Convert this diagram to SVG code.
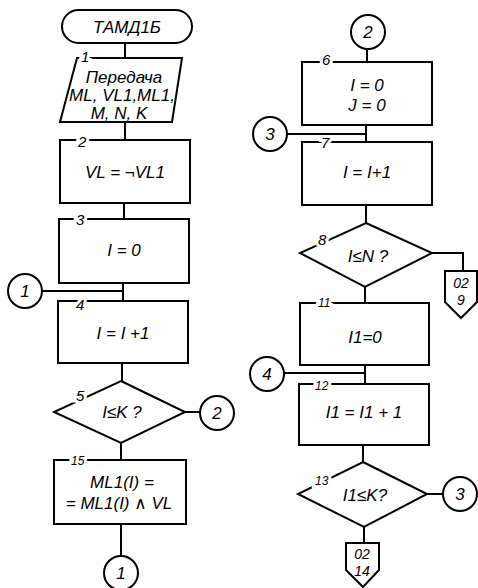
<svg xmlns="http://www.w3.org/2000/svg" width="478" height="588" viewBox="0 0 478 588">
<style>
.s{fill:#fff;stroke:#000;stroke-width:2}
.c{fill:none;stroke:#000;stroke-width:2}
text{font-family:"Liberation Sans","DejaVu Sans",sans-serif;font-style:italic;fill:#000}
.t{font-size:17px;text-anchor:middle}
.n{font-size:15px;paint-order:stroke;stroke:#fff;stroke-width:6px}
.m{font-size:12px;paint-order:stroke;stroke:#fff;stroke-width:6px}
.o{font-size:14px;text-anchor:middle}
</style>
<rect width="478" height="588" fill="#fff"/>
<g id="connectors">
<path class="c" d="M125 43V58M125 122V140M124 203V219M123 283V301M42 291H123M122 363V381M185 412H200M121 443V460M121 524V556"/>
<path class="c" d="M367 49V62M366 125V142M287 134H366M366 205V223M432 253H463V271M365 287V303M365 365V384M284 373H365M363 445V462M427 494H443M364 527V543"/>
</g>
<g id="start"><rect class="s" x="62" y="10" width="130" height="33" rx="16.5"/><text class="t" x="127" y="33">ТАМД1Б</text></g>
<g id="n1"><polygon class="s" points="77,58 182,58 172,122 60,122"/><text class="n" x="81" y="62">1</text><text class="t" x="124" y="83">Передача</text><text class="t" x="122" y="101">ML, VL1,ML1,</text><text class="t" x="119" y="119">M, N, K</text></g>
<g id="n2"><rect class="s" x="60" y="140" width="130" height="63"/><text class="n" x="78" y="147">2</text><text class="t" x="125" y="178">VL = ¬VL1</text></g>
<g id="n3"><rect class="s" x="59" y="219" width="130" height="64"/><text class="n" x="76" y="225">3</text><text class="t" x="124" y="256">I = 0</text></g>
<g id="c1a"><circle class="s" cx="25" cy="291" r="17"/><text class="t" x="25" y="297">1</text></g>
<g id="n4"><rect class="s" x="58" y="301" width="130" height="62"/><text class="n" x="76" y="310">4</text><text class="t" x="123" y="339">I = I +1</text></g>
<g id="n5"><polygon class="s" points="121,381 185,412 121,443 54,412"/><text class="n" x="76" y="401">5</text><text class="t" x="122" y="418">I≤K ?</text></g>
<g id="c2a"><circle class="s" cx="217" cy="413" r="17"/><text class="t" x="217" y="419">2</text></g>
<g id="n15"><rect class="s" x="54" y="460" width="132" height="64"/><text class="m" x="71" y="465">15</text><text class="t" x="122" y="488">ML1(I) =</text><text class="t" x="119" y="509">= ML1(I) ∧ VL</text></g>
<g id="c1b"><circle class="s" cx="121" cy="573" r="17"/><text class="t" x="121" y="579">1</text></g>
<g id="c2b"><circle class="s" cx="368" cy="32" r="17"/><text class="t" x="368" y="38">2</text></g>
<g id="n6"><rect class="s" x="302" y="62" width="130" height="63"/><text class="n" x="322" y="65">6</text><text class="t" x="367" y="91">I = 0</text><text class="t" x="367" y="111">J = 0</text></g>
<g id="c3a"><circle class="s" cx="270" cy="134" r="17"/><text class="t" x="270" y="140">3</text></g>
<g id="n7"><rect class="s" x="302" y="142" width="130" height="63"/><text class="n" x="321" y="148">7</text><text class="t" x="367" y="178">I = I+1</text></g>
<g id="n8"><polygon class="s" points="366,223 432,253 365,287 300,253"/><text class="n" x="318" y="245">8</text><text class="t" x="368" y="262">I≤N ?</text></g>
<g id="p9"><polygon class="s" points="445,271 477,271 477,302 461,318 445,302"/><text class="o" x="461" y="288">02</text><text class="o" x="461" y="305">9</text></g>
<g id="n11"><rect class="s" x="300" y="303" width="129" height="62"/><text class="m" x="318" y="307">11</text><text class="t" x="365" y="343">I1=0</text></g>
<g id="c4"><circle class="s" cx="267" cy="374" r="17"/><text class="t" x="267" y="380">4</text></g>
<g id="n12"><rect class="s" x="299" y="384" width="130" height="61"/><text class="m" x="315" y="390">12</text><text class="t" x="364" y="418">I1 = I1 + 1</text></g>
<g id="n13"><polygon class="s" points="363,462 427,494 364,527 298,494"/><text class="m" x="315" y="485">13</text><text class="t" x="365" y="501">I1≤K?</text></g>
<g id="c3b"><circle class="s" cx="460" cy="494" r="17"/><text class="t" x="460" y="500">3</text></g>
<g id="p14"><polygon class="s" points="346,543 379,543 379,570 363,587 346,570"/><text class="o" x="362" y="559">02</text><text class="o" x="362" y="576">14</text></g>
</svg>
